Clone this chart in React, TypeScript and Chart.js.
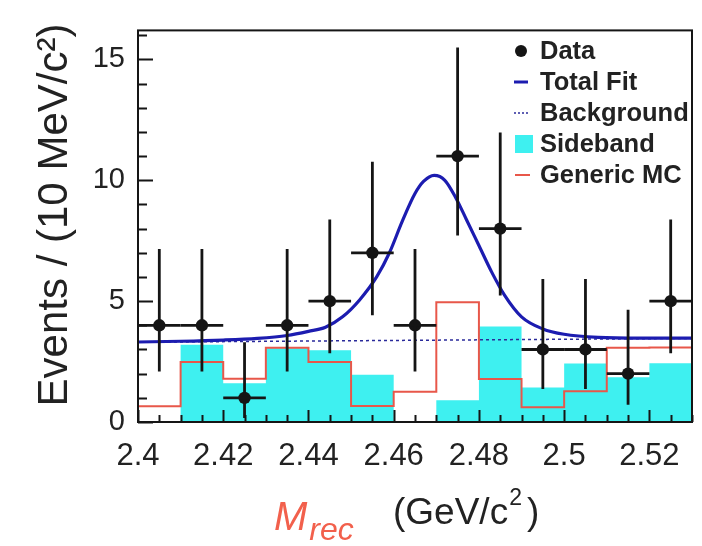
import React, { useEffect, useRef } from "react";
import { Chart, registerables } from "chart.js";

Chart.register(...registerables);

// ---- data ----
const binEdges = [2.40, 2.41, 2.42, 2.43, 2.44, 2.45, 2.46, 2.47, 2.48, 2.49, 2.50, 2.51, 2.52, 2.53];
const binCenters = [2.405, 2.415, 2.425, 2.435, 2.445, 2.455, 2.465, 2.475, 2.485, 2.495, 2.505, 2.515, 2.525];
const dataCounts = [4, 4, 1, 4, 5, 7, 4, 11, 8, 3, 3, 2, 5];
const errLow = [1.91, 1.91, 0.83, 1.91, 2.16, 2.58, 1.91, 3.28, 2.77, 1.63, 1.63, 1.29, 2.16];
const errHigh = [3.16, 3.16, 2.30, 3.16, 3.38, 3.77, 3.16, 4.49, 3.98, 2.92, 2.92, 2.64, 3.38];
const sideband = [0, 3.2, 1.6, 3.05, 2.97, 1.95, 0, 0.9, 3.95, 1.43, 2.42, 1.85, 2.43];
const genericMC = [0.65, 2.48, 1.79, 3.07, 2.48, 0.66, 1.25, 4.95, 1.78, 0.61, 1.27, 3.07, 3.08];
const fitX = [2.400, 2.410, 2.420, 2.428, 2.435, 2.440, 2.444, 2.448, 2.452, 2.456, 2.459, 2.462, 2.465, 2.467, 2.4695, 2.472, 2.4745, 2.477, 2.480, 2.483, 2.486, 2.490, 2.495, 2.500, 2.508, 2.518, 2.530];
const fitY = [3.31, 3.34, 3.39, 3.46, 3.58, 3.75, 3.92, 4.35, 5.05, 6.0, 7.0, 8.3, 9.45, 9.95, 10.2, 10.0, 9.3, 8.4, 7.3, 6.2, 5.25, 4.35, 3.85, 3.63, 3.50, 3.47, 3.47];
const bkgX = [2.40, 2.53];
const bkgY = [3.30, 3.46];

const xTickValues = [2.4, 2.42, 2.44, 2.46, 2.48, 2.5, 2.52];
const xTickLabels = ["2.4", "2.42", "2.44", "2.46", "2.48", "2.5", "2.52"];
const yTickValues = [0, 5, 10, 15];
const yTickLabels = ["0", "5", "10", "15"];

const yTitle = "Events / (10 MeV/c\u00B2)";
const xTitleMain = "M";
const xTitleSub = "rec";
const xTitleUnit = "(GeV/c";
const xTitleSup = "2";
const xTitleClose = ")";
const legendLabels = ["Data", "Total Fit", "Background", "Sideband", "Generic MC"];

// ---- styles ----
const CYAN = "#3ef0f0";
const RED = "#e8574a";
const BLUE = "#1c1cb0";
const BKG = "#2a2a9a";
const INK = "#151515";
const FONT = "'Liberation Sans', Arial, Helvetica, sans-serif";

const histPoints = (vals: number[]) =>
  binEdges.map((e, i) => ({ x: e, y: vals[Math.min(i, vals.length - 1)] }));

const decorPlugin = {
  id: "decor",
  afterDatasetsDraw(chart: any) {
    const { ctx, chartArea: a, scales } = chart;
    const x = scales.x;
    const y = scales.y;
    ctx.save();
    // error bars
    ctx.strokeStyle = INK;
    ctx.lineWidth = 2.8;
    ctx.lineCap = "butt";
    for (let i = 0; i < dataCounts.length; i++) {
      const px = x.getPixelForValue(binCenters[i]);
      const py = y.getPixelForValue(dataCounts[i]);
      ctx.beginPath();
      ctx.moveTo(px, y.getPixelForValue(dataCounts[i] - errLow[i]));
      ctx.lineTo(px, Math.max(y.getPixelForValue(dataCounts[i] + errHigh[i]), a.top));
      ctx.moveTo(x.getPixelForValue(binEdges[i]), py);
      ctx.lineTo(x.getPixelForValue(binEdges[i + 1]), py);
      ctx.stroke();
    }
    // ticks
    ctx.lineWidth = 2;
    ctx.beginPath();
    for (let v = 0; v <= 16; v++) {
      const py = Math.round(y.getPixelForValue(v)) + 0.5;
      const len = v % 5 === 0 ? 15 : 9;
      ctx.moveTo(a.left, py);
      ctx.lineTo(a.left + len, py);
    }
    for (let i = 0; i <= 26; i++) {
      const v = 2.4 + i * 0.005;
      const px = Math.round(x.getPixelForValue(v)) + 0.5;
      const len = i % 4 === 0 ? 12 : 7;
      ctx.moveTo(px, a.bottom);
      ctx.lineTo(px, a.bottom - len);
    }
    ctx.stroke();
    // frame
    ctx.lineWidth = 2;
    ctx.strokeRect(a.left, a.top, a.right - a.left, a.bottom - a.top);
    ctx.restore();
  },
  afterDraw(chart: any) {
    const { ctx } = chart;
    ctx.save();
    // legend
    const mx = 521;
    const tx = 540;
    const y0 = 51;
    const dy = 31;
    ctx.font = `bold 25.5px ${FONT}`;
    ctx.textBaseline = "middle";
    ctx.textAlign = "left";
    legendLabels.forEach((lab, i) => {
      const yy = y0 + i * dy;
      if (i === 0) {
        ctx.fillStyle = INK;
        ctx.beginPath();
        ctx.arc(mx, yy, 6, 0, Math.PI * 2);
        ctx.fill();
      } else if (i === 1) {
        ctx.strokeStyle = BLUE;
        ctx.lineWidth = 3;
        ctx.beginPath();
        ctx.moveTo(mx - 7, yy);
        ctx.lineTo(mx + 7, yy);
        ctx.stroke();
      } else if (i === 2) {
        ctx.strokeStyle = BKG;
        ctx.lineWidth = 1.5;
        ctx.setLineDash([2, 2]);
        ctx.beginPath();
        ctx.moveTo(mx - 7, yy);
        ctx.lineTo(mx + 7, yy);
        ctx.stroke();
        ctx.setLineDash([]);
      } else if (i === 3) {
        ctx.fillStyle = CYAN;
        ctx.fillRect(mx - 6, yy - 9, 18, 18);
      } else {
        ctx.strokeStyle = RED;
        ctx.lineWidth = 2;
        ctx.beginPath();
        ctx.moveTo(mx - 6, yy);
        ctx.lineTo(mx + 9, yy);
        ctx.stroke();
      }
      ctx.fillStyle = "#222";
      ctx.fillText(lab, tx, yy + 1);
    });
    // y title
    ctx.save();
    ctx.translate(67, 215);
    ctx.rotate(-Math.PI / 2);
    ctx.textAlign = "center";
    ctx.textBaseline = "alphabetic";
    ctx.fillStyle = "#222";
    ctx.font = `42px ${FONT}`;
    ctx.fillText(yTitle, 0, 0);
    ctx.restore();
    // x title
    ctx.textAlign = "left";
    ctx.textBaseline = "alphabetic";
    ctx.fillStyle = "#f2604c";
    ctx.font = `italic 40px ${FONT}`;
    ctx.fillText(xTitleMain, 274, 530);
    const mw = ctx.measureText(xTitleMain).width;
    ctx.font = `italic 32px ${FONT}`;
    ctx.fillText(xTitleSub, 274 + mw + 2, 540);
    ctx.fillStyle = "#222";
    ctx.font = `37px ${FONT}`;
    ctx.fillText(xTitleUnit, 393, 524);
    const uw = ctx.measureText(xTitleUnit).width;
    ctx.font = `23px ${FONT}`;
    ctx.fillText(xTitleSup, 393 + uw + 1, 505);
    const sw = ctx.measureText(xTitleSup).width;
    ctx.font = `37px ${FONT}`;
    ctx.fillText(xTitleClose, 393 + uw + 1 + sw + 5, 524);
    ctx.restore();
  },
};

export default function App() {
  const ref = useRef<HTMLCanvasElement | null>(null);
  useEffect(() => {
    if (!ref.current) return;
    const chart = new Chart(ref.current, {
      type: "scatter",
      data: {
        datasets: [
          {
            label: "Data",
            data: binCenters.map((c, i) => ({ x: c, y: dataCounts[i] })),
            showLine: false,
            pointRadius: 6.2,
            pointBackgroundColor: INK,
            pointBorderWidth: 0,
          } as any,
          {
            label: "Total Fit",
            data: fitX.map((v, i) => ({ x: v, y: fitY[i] })),
            showLine: true,
            borderColor: BLUE,
            borderWidth: 3.2,
            pointRadius: 0,
            cubicInterpolationMode: "monotone",
            fill: false,
          },
          {
            label: "Background",
            data: bkgX.map((v, i) => ({ x: v, y: bkgY[i] })),
            showLine: true,
            borderColor: BKG,
            borderWidth: 1.5,
            borderDash: [3, 3],
            pointRadius: 0,
            fill: false,
          },
          {
            label: "Generic MC",
            data: histPoints(genericMC),
            showLine: true,
            stepped: true,
            borderColor: RED,
            borderWidth: 2,
            pointRadius: 0,
            fill: false,
          },
          {
            label: "Sideband",
            data: histPoints(sideband),
            showLine: true,
            stepped: true,
            borderWidth: 0,
            borderColor: "rgba(0,0,0,0)",
            backgroundColor: CYAN,
            pointRadius: 0,
            fill: "origin",
          },
        ],
      },
      options: {
        animation: false,
        responsive: false,
        events: [],
        layout: { padding: { top: 7, right: 10, left: 0, bottom: 0 } },
        plugins: {
          legend: { display: false },
          tooltip: { enabled: false },
        },
        scales: {
          x: {
            type: "linear",
            min: 2.4,
            max: 2.53,
            grid: { display: false, drawTicks: false },
            border: { display: false },
            afterBuildTicks: (s: any) => {
              s.ticks = xTickValues.map((v) => ({ value: v }));
            },
            afterFit: (s: any) => {
              s.height = 124;
            },
            ticks: {
              autoSkip: false,
              maxRotation: 0,
              padding: 16,
              color: "#222",
              font: { family: FONT, size: 31 },
              callback: (v: any) => {
                const idx = xTickValues.findIndex((t) => Math.abs(t - v) < 1e-6);
                return idx >= 0 ? xTickLabels[idx] : "";
              },
            },
          },
          y: {
            type: "linear",
            min: 0,
            max: 16.2,
            grid: { display: false, drawTicks: false },
            border: { display: false },
            afterBuildTicks: (s: any) => {
              s.ticks = yTickValues.map((v) => ({ value: v }));
            },
            afterFit: (s: any) => {
              s.width = 138;
            },
            ticks: {
              padding: 13,
              color: "#222",
              font: { family: FONT, size: 29 },
              callback: (v: any) => {
                const idx = yTickValues.findIndex((t) => Math.abs(t - v) < 1e-6);
                return idx >= 0 ? yTickLabels[idx] : "";
              },
            },
          },
        },
      },
      plugins: [decorPlugin],
    } as any);
    return () => chart.destroy();
  }, []);
  return (
    <div style={{ position: "absolute", left: 0, top: 0, width: 702, height: 546, background: "#fff" }}>
      <canvas ref={ref} width={702} height={546} />
    </div>
  );
}
